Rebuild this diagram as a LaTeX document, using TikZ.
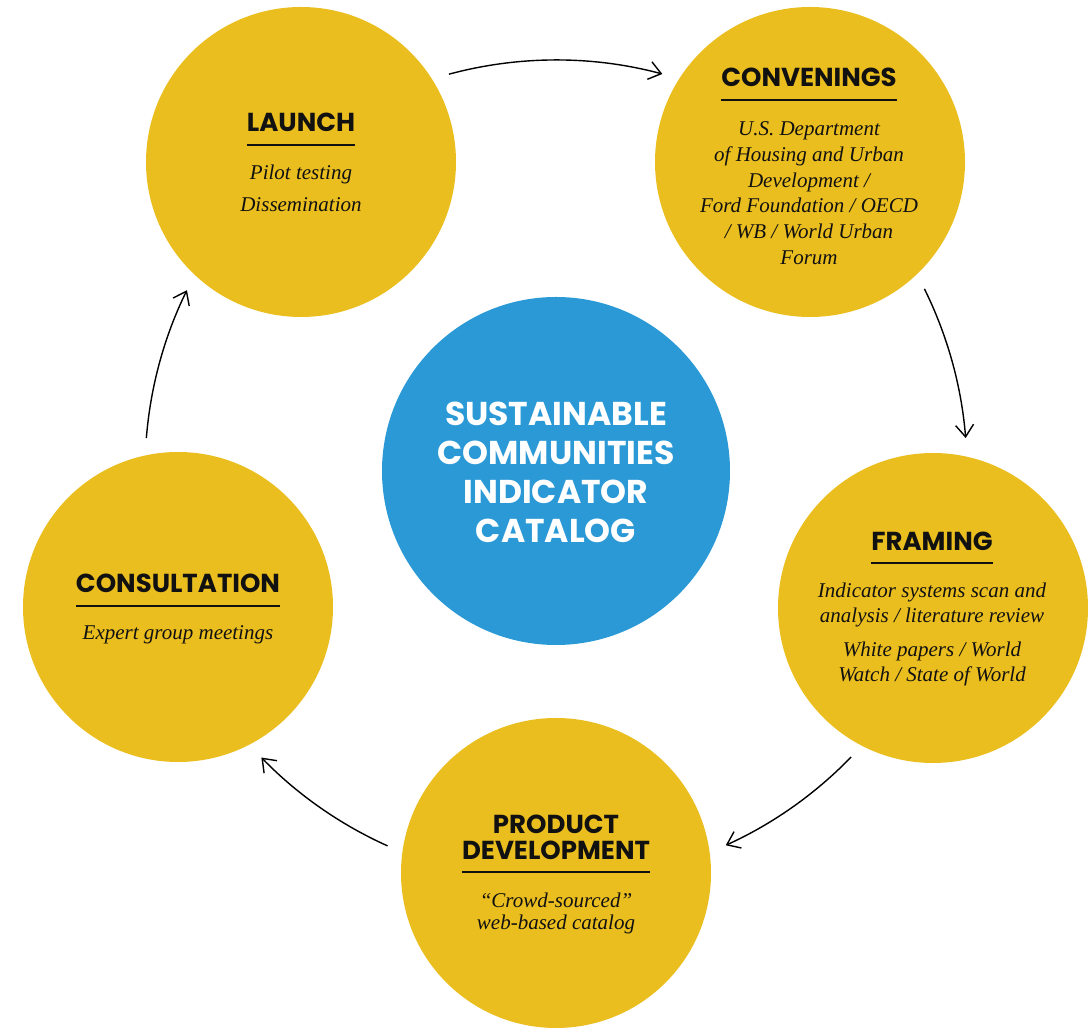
\documentclass[tikz,border=0pt]{standalone}
\usepackage{fontspec}
\setmainfont{Liberation Serif}
\newfontfamily\headfont{Poppins}
\usetikzlibrary{arrows.meta,calc}
\definecolor{gold}{HTML}{EBBE1F}
\definecolor{sky}{HTML}{2A99D6}
\definecolor{ink}{HTML}{111111}
\begin{document}
\begin{tikzpicture}[x=1pt,y=1pt,
  stage/.style={circle,fill=gold,minimum size=310pt,inner sep=0pt},
  hub/.style={circle,fill=sky,minimum size=348pt,inner sep=0pt},
  head/.style={inner sep=0pt,anchor=base,font=\headfont\bfseries\fontsize{26}{30}\selectfont,text=ink},
  hubtext/.style={inner sep=0pt,anchor=base,font=\headfont\bfseries\fontsize{33}{38}\selectfont,text=white},
  body/.style={inner sep=0pt,anchor=base,font=\itshape\fontsize{21}{26}\selectfont,text=ink},
  rulel/.style={draw=ink,line width=1.4pt},
  flow/.style={draw=black,line width=1.4pt,-{Straight Barb[length=12pt,width=18pt,line width=1.4pt]}}
]
\useasboundingbox (0,0) rectangle (1088,1028);

% circles
\node[hub] (cen) at (556,557) {};
\node[stage] (launch) at (301,866) {};
\node[stage] (conv) at (810,866) {};
\node[stage] (frame) at (933,420) {};
\node[stage] (prod) at (556,155) {};
\node[stage] (cons) at (178,421) {};

% hub text
\node[hubtext] (hub1) at ($(cen.center)+(0,45)$) {SUSTAINABLE};
\node[hubtext] (hub2) at ($(cen.center)+(0,6.3)$) {COMMUNITIES};
\node[hubtext] (hub3) at ($(cen.center)+(0,-32.4)$) {INDICATOR};
\node[hubtext] (hub4) at ($(cen.center)+(0,-71.1)$) {CATALOG};

% LAUNCH
\node[head] (launchH) at ($(launch.center)+(0,30)$) {LAUNCH};
\draw[rulel] ($(launchH.base west)+(0,-13)$) -- ($(launchH.base east)+(0,-13)$);
\node[body] (launchB1) at ($(launch.center)+(0,-18)$) {Pilot testing};
\node[body] (launchB2) at ($(launch.center)+(0,-50)$) {Dissemination};

% CONVENINGS
\node[head] (convH) at ($(conv.center)+(-1,75)$) {CONVENINGS};
\draw[rulel] ($(convH.base west)+(0,-13)$) -- ($(convH.base east)+(0,-13)$);
\node[body] (convB1) at ($(conv.center)+(-1,26)$) {U.S. Department};
\node[body] (convB2) at ($(conv.center)+(-1,0)$) {of Housing and Urban};
\node[body] (convB3) at ($(conv.center)+(-1,-26)$) {Development /};
\node[body] (convB4) at ($(conv.center)+(-1,-51)$) {Ford Foundation / OECD};
\node[body] (convB5) at ($(conv.center)+(-1,-77)$) {/ WB / World Urban};
\node[body] (convB6) at ($(conv.center)+(-1,-103)$) {Forum};

% FRAMING
\node[head] (frameH) at ($(frame.center)+(-1,57)$) {FRAMING};
\draw[rulel] ($(frameH.base west)+(0,-12)$) -- ($(frameH.base east)+(0,-12)$);
\node[body] (frameB1) at ($(frame.center)+(-1,10)$) {Indicator systems scan and};
\node[body] (frameB2) at ($(frame.center)+(-1,-15)$) {analysis / literature review};
\node[body] (frameB3) at ($(frame.center)+(-1,-49)$) {White papers / World};
\node[body] (frameB4) at ($(frame.center)+(-1,-74)$) {Watch / State of World};

% PRODUCT DEVELOPMENT
\node[head] (prodH1) at ($(prod.center)+(0,39)$) {PRODUCT};
\node[head] (prodH2) at ($(prod.center)+(0,13)$) {DEVELOPMENT};
\draw[rulel] ($(prodH2.base west)+(0,-12)$) -- ($(prodH2.base east)+(0,-12)$);
\node[body] (prodB1) at ($(prod.center)+(0,-35)$) {“Crowd-sourced”};
\node[body] (prodB2) at ($(prod.center)+(0,-57)$) {web-based catalog};

% CONSULTATION
\node[head] (consH) at ($(cons.center)+(0,14)$) {CONSULTATION};
\draw[rulel] ($(consH.base west)+(0,-13)$) -- ($(consH.base east)+(0,-13)$);
\node[body] (consB1) at ($(cons.center)+(0,-33)$) {Expert group meetings};

% flow arrows (arcs around the hub)
\coordinate (f1) at ($(cen.center)+(105.1:411)$);
\coordinate (f2) at ($(cen.center)+(26.3:411)$);
\coordinate (f3) at ($(cen.center)+(-44.1:411)$);
\coordinate (f4) at ($(cen.center)+(-114.2:411)$);
\coordinate (f5) at ($(cen.center)+(175.4:411)$);
\draw[flow] (f1) arc[start angle=105.1,end angle=75,radius=411];
\draw[flow] (f2) arc[start angle=26.3,end angle=4.6,radius=411];
\draw[flow] (f3) arc[start angle=-44.1,end angle=-65.6,radius=411];
\draw[flow] (f4) arc[start angle=-114.2,end angle=-135.8,radius=411];
\draw[flow] (f5) arc[start angle=175.4,end angle=153.9,radius=411];
\end{tikzpicture}
\end{document}
